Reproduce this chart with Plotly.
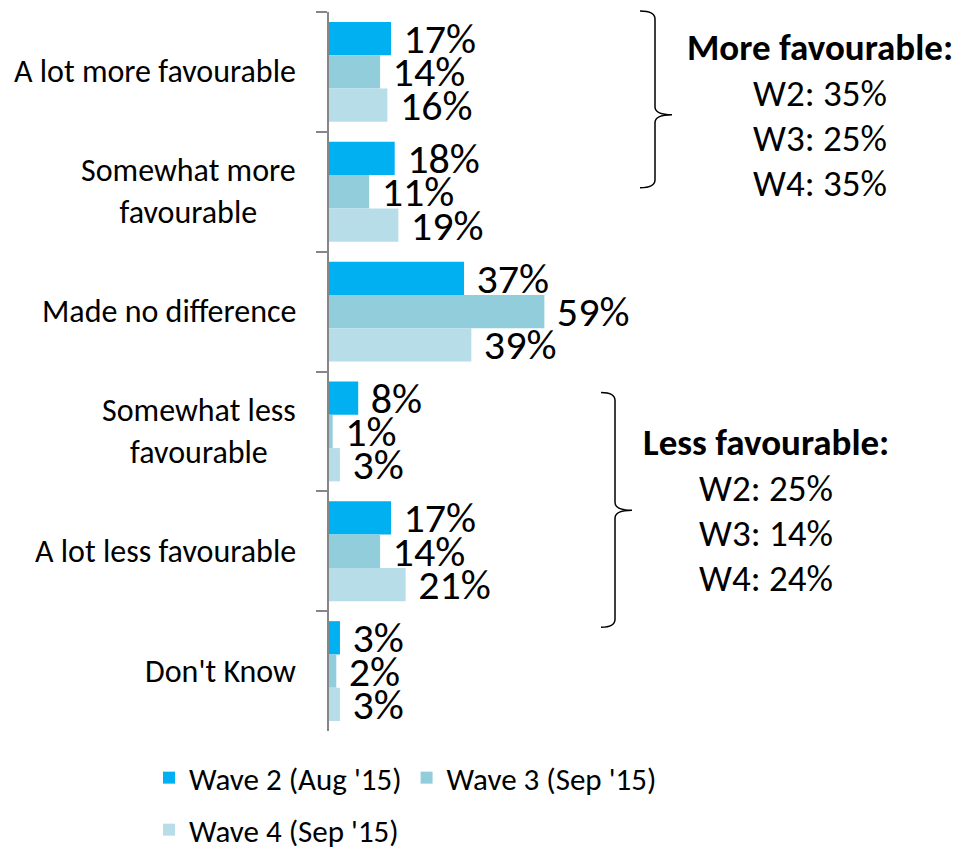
"""
Grouped horizontal bars: effect on favourability, by wave
"""
import plotly.graph_objs as go

categories = [
    'A lot more favourable',
    'Somewhat more<br>favourable',
    'Made no difference',
    'Somewhat less<br>favourable',
    'A lot less favourable',
    "Don't Know",
]
series_names = ["Wave 2 (Aug '15)", "Wave 3 (Sep '15)", "Wave 4 (Sep '15)"]
wave2 = [17, 18, 37, 8, 17, 3]
wave3 = [14, 11, 59, 1, 14, 2]
wave4 = [16, 19, 39, 3, 21, 3]
colors = ['#00B0F0', '#92CDDC', '#B7DEE8']
legend_rows = ['legend', 'legend', 'legend2']

more_title = 'More favourable:'
more_lines = ['W2: 35%', 'W3: 25%', 'W4: 35%']
less_title = 'Less favourable:'
less_lines = ['W2: 25%', 'W3: 14%', 'W4: 24%']

FONT = 'Carlito, Calibri, Lato, sans-serif'

# page geometry (pixels); the browser's body margin shifts the figure by OFF
OFF = 8
W, H = 961 - OFF, 860 - OFF
ML, MR, MT, MB = 329 - OFF, 11, 12 - OFF, 128
PW, PH = W - ML - MR, H - MT - MB


def px(x):
    """page x pixel -> paper"""
    return (x - OFF - ML) / PW


def py(y):
    """page y pixel -> paper"""
    return (H - MB - (y - OFF)) / PH


def brace(x_left, x_spine, x_tip, y_top, y_tip, y_bot, r=8):
    """Right-facing curly brace as an SVG path in paper coords"""
    pts = [
        ('M', x_left, y_top),
        ('Q', x_spine, y_top, x_spine, y_top + r),
        ('L', x_spine, y_tip - r),
        ('Q', x_spine, y_tip, x_tip, y_tip),
        ('Q', x_spine, y_tip, x_spine, y_tip + r),
        ('L', x_spine, y_bot - r),
        ('Q', x_spine, y_bot, x_left, y_bot),
    ]
    path = ''
    for p in pts:
        cmd, coords = p[0], p[1:]
        xy = []
        for i in range(0, len(coords), 2):
            xy.append(f'{px(coords[i]):.5f},{py(coords[i + 1]):.5f}')
        path += cmd + ' '.join(xy) + ' '
    return path.strip()


fig = go.Figure()

for name, values, color, leg in zip(
        series_names, [wave2, wave3, wave4], colors, legend_rows):
    fig.add_trace(go.Bar(
        x=values,
        y=categories,
        orientation='h',
        name=name,
        legend=leg,
        marker={'color': color, 'line': {'width': 0}},
        text=[f'\u00a0{v}%' for v in values],
        textposition='outside',
        constraintext='none',
        cliponaxis=False,
        textfont={'family': FONT, 'size': 42, 'color': '#000000'},
    ))

annotations = []

# category labels (centred lines, right edge near the axis)
for cat in categories:
    annotations.append(dict(
        xref='paper', yref='y', x=px(298), y=cat,
        xanchor='right', yanchor='middle', align='center',
        text=cat, showarrow=False,
        font={'family': FONT, 'size': 32, 'color': '#000000'},
    ))

for title, lines, cx, y0 in [
    (more_title, more_lines, 820, 48),
    (less_title, less_lines, 766, 443),
]:
    annotations.append(dict(
        xref='paper', yref='paper', x=px(cx), y=py(y0),
        xanchor='center', yanchor='middle',
        text=f'<b>{title}</b>', showarrow=False,
        font={'family': FONT, 'size': 37, 'color': '#000000'},
    ))
    for i, line in enumerate(lines):
        annotations.append(dict(
            xref='paper', yref='paper', x=px(cx), y=py(y0 + 46 + 45 * i),
            xanchor='center', yanchor='middle',
            text=line, showarrow=False,
            font={'family': FONT, 'size': 37, 'color': '#000000'},
        ))

shapes = [
    dict(type='path', xref='paper', yref='paper',
         path=brace(640, 655, 672, 11, 115, 188),
         line={'color': '#000000', 'width': 1.5}),
    dict(type='path', xref='paper', yref='paper',
         path=brace(601, 615, 632, 393, 511, 628),
         line={'color': '#000000', 'width': 1.5}),
]

legend_style = {
    'orientation': 'h',
    'x': px(149),
    'xanchor': 'left',
    'yanchor': 'top',
    'traceorder': 'normal',
    'font': {'family': FONT, 'size': 31, 'color': '#000000'},
    'itemclick': False,
    'itemdoubleclick': False,
}

fig.update_layout(
    width=W,
    height=H,
    margin={'l': ML, 'r': MR, 't': MT, 'b': MB, 'pad': 0},
    barmode='group',
    bargap=0.1667,
    bargroupgap=0,
    plot_bgcolor='white',
    paper_bgcolor='white',
    font={'family': FONT, 'size': 31, 'color': '#000000'},
    xaxis={'visible': False, 'range': [0, PW / 3.65], 'fixedrange': True},
    yaxis={
        'autorange': 'reversed',
        'showline': True,
        'linecolor': '#868686',
        'linewidth': 2,
        'ticks': 'outside',
        'tickson': 'boundaries',
        'ticklen': 11,
        'tickwidth': 2,
        'tickcolor': '#868686',
        'showgrid': False,
        'showticklabels': False,
        'fixedrange': True,
    },
    legend={**legend_style, 'y': py(751)},
    legend2={**legend_style, 'y': py(803)},
    annotations=annotations,
    shapes=shapes,
)

fig.write_html('out.html', config={'displayModeBar': False})
